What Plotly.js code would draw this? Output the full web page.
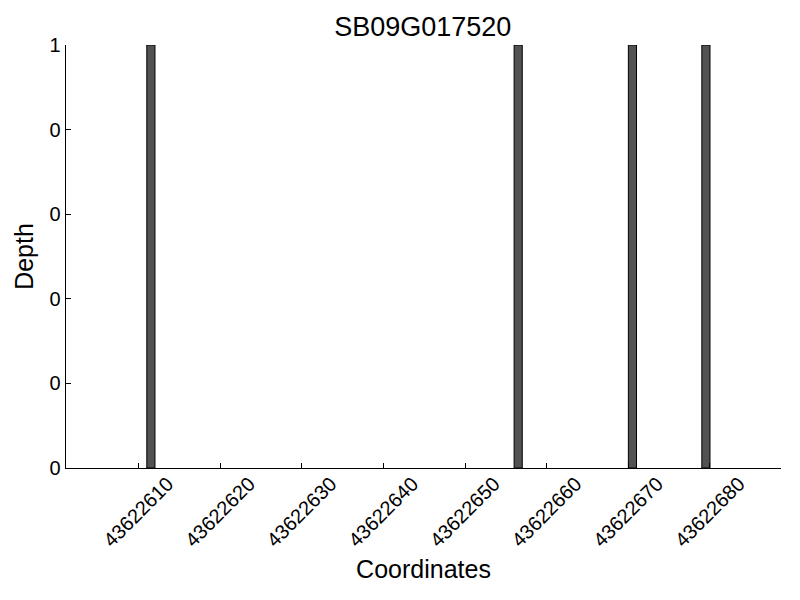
<!DOCTYPE html>
<html>
<head>
<meta charset="utf-8">
<script src="https://cdn.plot.ly/plotly-3.0.1.min.js"></script>
<style>html,body{margin:0;padding:0;background:#fff;}#chart{width:800px;height:600px;}</style>
</head>
<body>
<div id="chart"></div>
<script>
// Data
const title = "SB09G017520";
const positions = [43622611, 43622656, 43622670, 43622679];
const depths = [1, 1, 1, 1];
const xTickVals = [43622610, 43622620, 43622630, 43622640, 43622650, 43622660, 43622670, 43622680];
const xTickText = ["43622610", "43622620", "43622630", "43622640", "43622650", "43622660", "43622670", "43622680"];
const yTickVals = [0, 0.2, 0.4, 0.6, 0.8, 1.0];
const yTickText = ["0", "0", "0", "0", "0", "1"];

const font = "Liberation Sans, Arial, sans-serif";

const trace = {
  type: "bar",
  x: positions,
  y: depths,
  width: 1,
  offset: 0,
  marker: {color: "#525252", line: {color: "#000000", width: 1}},
  hoverinfo: "x+y"
};

const layout = {
  width: 800, height: 600,
  margin: {l: 66, r: 19, t: 45, b: 132},
  paper_bgcolor: "#fff", plot_bgcolor: "#fff",
  showlegend: false,
  bargap: 0,
  font: {family: font, color: "#000"},
  title: {text: title, font: {family: font, size: 27, color: "#000"}, x: 0.5285, xanchor: "center", y: 0.955, yanchor: "middle"},
  xaxis: {
    range: [43622601.1, 43622688.7],
    tickvals: xTickVals, ticktext: xTickText,
    tickangle: -45, ticks: "inside", ticklen: 5, tickwidth: 1, tickcolor: "#000",
    tickfont: {family: font, size: 20, color: "#000"},
    ticklabelshift: 29,
    ticklabelstandoff: -5,
    showgrid: false, zeroline: false,
    showline: true, linecolor: "#000", linewidth: 1.3,
    title: {text: "Coordinates", font: {family: font, size: 25, color: "#000"}, standoff: 10}
  },
  yaxis: {
    range: [0, 1],
    tickvals: yTickVals, ticktext: yTickText,
    ticks: "inside", ticklen: 5, tickwidth: 1, tickcolor: "#000",
    tickfont: {family: font, size: 20, color: "#000"},
    showgrid: false, zeroline: false,
    showline: true, linecolor: "#000", linewidth: 1.3,
    title: {text: "Depth", font: {family: font, size: 25, color: "#000"}, standoff: 8}
  }
};

Plotly.newPlot("chart", [trace], layout, {displayModeBar: false, staticPlot: true});
</script>
</body>
</html>
